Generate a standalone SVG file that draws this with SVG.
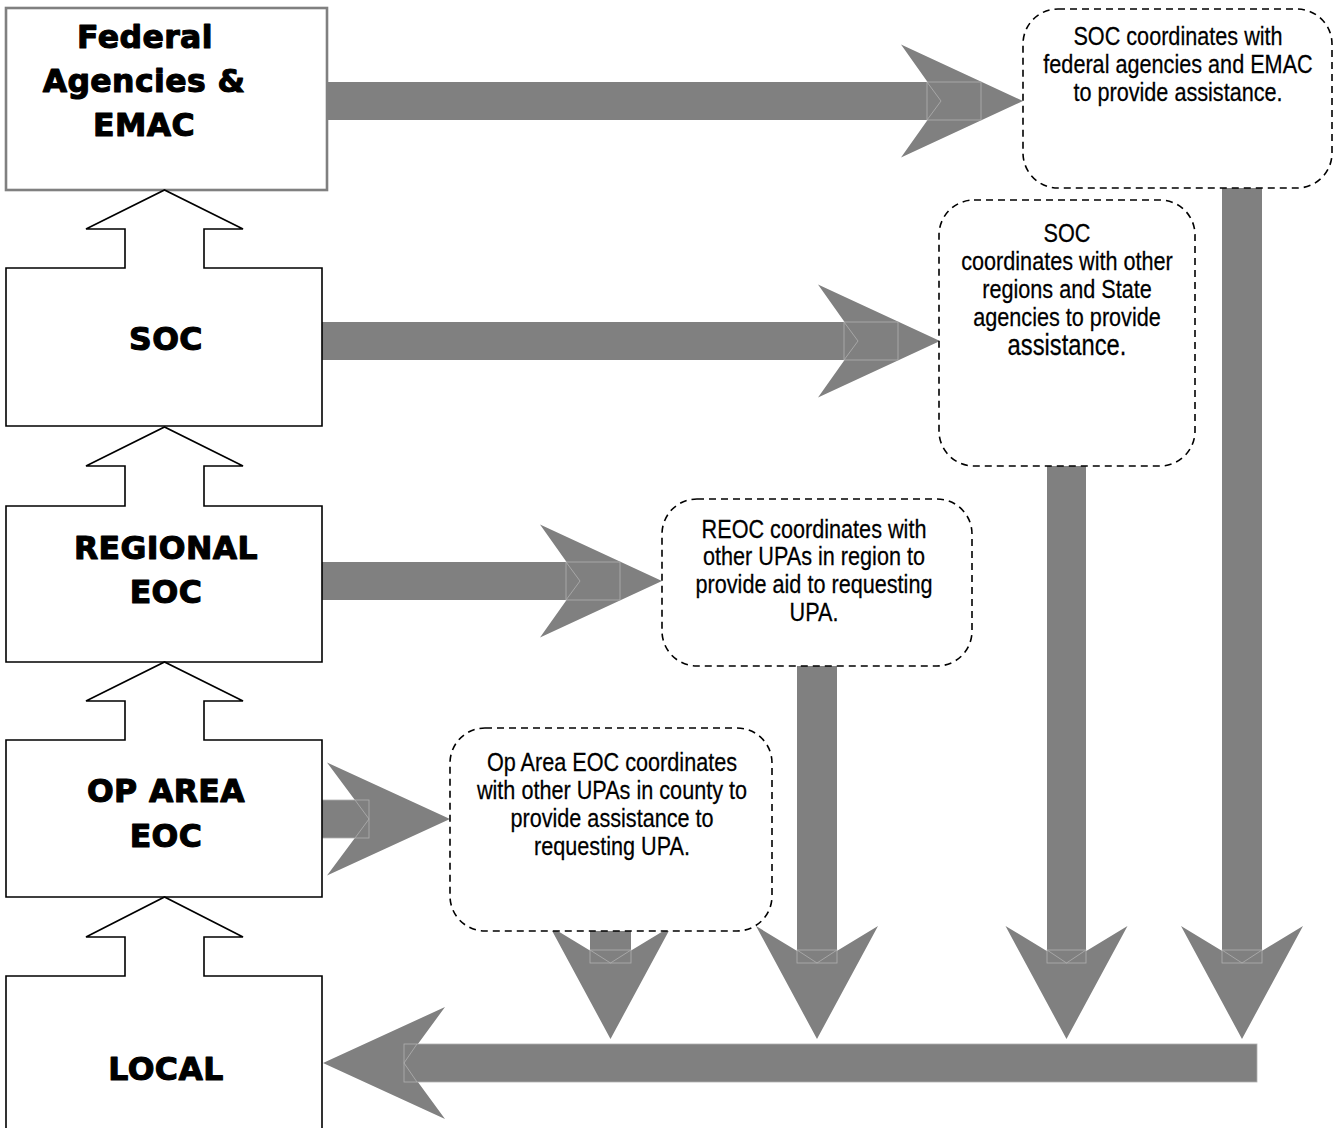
<svg xmlns="http://www.w3.org/2000/svg" width="1333" height="1128" viewBox="0 0 1333 1128">
<style>
.lvl{fill:#fff;stroke:#000;stroke-width:1.6;stroke-linejoin:miter}
.fed{fill:#fff;stroke:#808080;stroke-width:2.6}
.big{font-family:"DejaVu Sans","Liberation Sans",sans-serif;font-weight:bold;font-size:31.5px;letter-spacing:0.4px;text-anchor:middle;fill:#000;stroke:#000;stroke-width:1.1;stroke-linejoin:round}
.note{fill:#fff;stroke:#000;stroke-width:1.6;stroke-dasharray:7 5}
.nt{font-family:"Liberation Sans",Arial,sans-serif;font-size:26.4px;text-anchor:middle;fill:#000;stroke:#000;stroke-width:0.25}
.ar{fill:#808080;stroke:none}
.fl{fill:none;stroke:#b0b0b0;stroke-width:0.8}
</style>
<g id="connectors">
  <rect class="ar" x="324" y="82" width="657" height="38"/>
  <polygon class="ar" points="901,44.5 1023,101 901,157.5 941,101"/>
  <rect class="ar" x="322" y="322" width="576" height="38"/>
  <polygon class="ar" points="818,284.5 940,341 818,397.5 858,341"/>
  <rect class="ar" x="322" y="562" width="298" height="38"/>
  <polygon class="ar" points="540,524.5 662,581 540,637.5 580,581"/>
  <rect class="ar" x="322" y="800" width="47" height="38"/>
  <polygon class="ar" points="327,762.5 450,819 327,875.5 369,819"/>
  <rect class="ar" x="1222" y="188" width="40" height="775"/>
  <polygon class="ar" points="1181,926 1242,963 1303,926 1242,1039"/>
  <rect class="ar" x="1047" y="466" width="39" height="497"/>
  <polygon class="ar" points="1005.5,926 1066.5,963 1127.5,926 1066.5,1039"/>
  <rect class="ar" x="797" y="665" width="40" height="298"/>
  <polygon class="ar" points="756,926 817,963 878,926 817,1039"/>
  <rect class="ar" x="590" y="913" width="41" height="50"/>
  <polygon class="ar" points="549.5,926 610.5,963 671.5,926 610.5,1039"/>
  <rect class="ar" x="404" y="1044" width="853" height="38"/>
  <polygon class="ar" points="445,1007 323,1063 445,1119 404,1063"/>
  <rect class="fl" x="927" y="82" width="54" height="38"/>
  <polyline class="fl" points="927,82 941,101 927,120"/>
  <rect class="fl" x="844" y="322" width="54" height="38"/>
  <polyline class="fl" points="844,322 858,341 844,360"/>
  <rect class="fl" x="566" y="562" width="54" height="38"/>
  <polyline class="fl" points="566,562 580,581 566,600"/>
  <rect class="fl" x="322" y="800" width="47" height="38"/>
  <polyline class="fl" points="355,800 369,819 355,838"/>
  <rect class="fl" x="1222" y="950" width="40" height="13"/>
  <polyline class="fl" points="1222,950 1242,963 1262,950"/>
  <rect class="fl" x="1047" y="950" width="39" height="13"/>
  <polyline class="fl" points="1047,950 1066.5,963 1086,950"/>
  <rect class="fl" x="797" y="950" width="40" height="13"/>
  <polyline class="fl" points="797,950 817,963 837,950"/>
  <rect class="fl" x="590" y="950" width="41" height="13"/>
  <polyline class="fl" points="590,950 610.5,963 631,950"/>
  <rect class="fl" x="404" y="1044" width="853" height="38"/>
  <polyline class="fl" points="417,1044 404,1063 417,1082"/>
</g>
<g id="node-federal">
  <rect class="fed" x="6" y="8" width="321" height="182"/>
  <text class="big" x="145" y="48">Federal</text>
  <text class="big" x="144" y="92">Agencies &amp;</text>
  <text class="big" x="144" y="136">EMAC</text>
</g>
<g id="node-soc">
  <path class="lvl" d="M6,268 H125 V229 H86 L164.5,190 L243,229 H204 V268 H322 V426 H6 Z"/>
  <text class="big" x="166" y="350">SOC</text>
</g>
<g id="node-regional">
  <path class="lvl" d="M6,506 H125 V466 H86 L164.5,427 L243,466 H204 V506 H322 V662 H6 Z"/>
  <text class="big" x="166" y="559">REGIONAL</text>
  <text class="big" x="166" y="603">EOC</text>
</g>
<g id="node-oparea">
  <path class="lvl" d="M6,740 H125 V701 H86 L164.5,662 L243,701 H204 V740 H322 V897 H6 Z"/>
  <text class="big" x="166" y="802">OP AREA</text>
  <text class="big" x="166" y="847">EOC</text>
</g>
<g id="node-local">
  <path class="lvl" d="M6,1130 V976 H125 V937 H86 L164.5,897 L243,937 H204 V976 H322 V1130"/>
  <text class="big" x="166" y="1080">LOCAL</text>
</g>
<g id="note-federal">
  <rect class="note" x="1023" y="9" width="309" height="179" rx="35" ry="35"/>
  <g transform="translate(1178,0) scale(0.82,1)">
    <text class="nt" x="0" y="45">SOC coordinates with</text>
    <text class="nt" x="0" y="73">federal agencies and EMAC</text>
    <text class="nt" x="0" y="101">to provide assistance.</text>
  </g>
</g>
<g id="note-soc">
  <rect class="note" x="939" y="200" width="256" height="266" rx="35" ry="35"/>
  <g transform="translate(1067,0) scale(0.82,1)">
    <text class="nt" x="0" y="242">SOC</text>
    <text class="nt" x="0" y="270">coordinates with other</text>
    <text class="nt" x="0" y="298">regions and State</text>
    <text class="nt" x="0" y="326">agencies to provide</text>
    <text class="nt" x="0" y="355" style="font-size:29px">assistance.</text>
  </g>
</g>
<g id="note-regional">
  <rect class="note" x="662" y="499" width="310" height="167" rx="35" ry="35"/>
  <g transform="translate(814,0) scale(0.82,1)">
    <text class="nt" x="0" y="538">REOC coordinates with</text>
    <text class="nt" x="0" y="565">other UPAs in region to</text>
    <text class="nt" x="0" y="593">provide aid to requesting</text>
    <text class="nt" x="0" y="621">UPA.</text>
  </g>
</g>
<g id="note-oparea">
  <rect class="note" x="450" y="728" width="322" height="203" rx="35" ry="35"/>
  <g transform="translate(612,0) scale(0.82,1)">
    <text class="nt" x="0" y="771">Op Area EOC coordinates</text>
    <text class="nt" x="0" y="799">with other UPAs in county to</text>
    <text class="nt" x="0" y="827">provide assistance to</text>
    <text class="nt" x="0" y="855">requesting UPA.</text>
  </g>
</g>
</svg>
